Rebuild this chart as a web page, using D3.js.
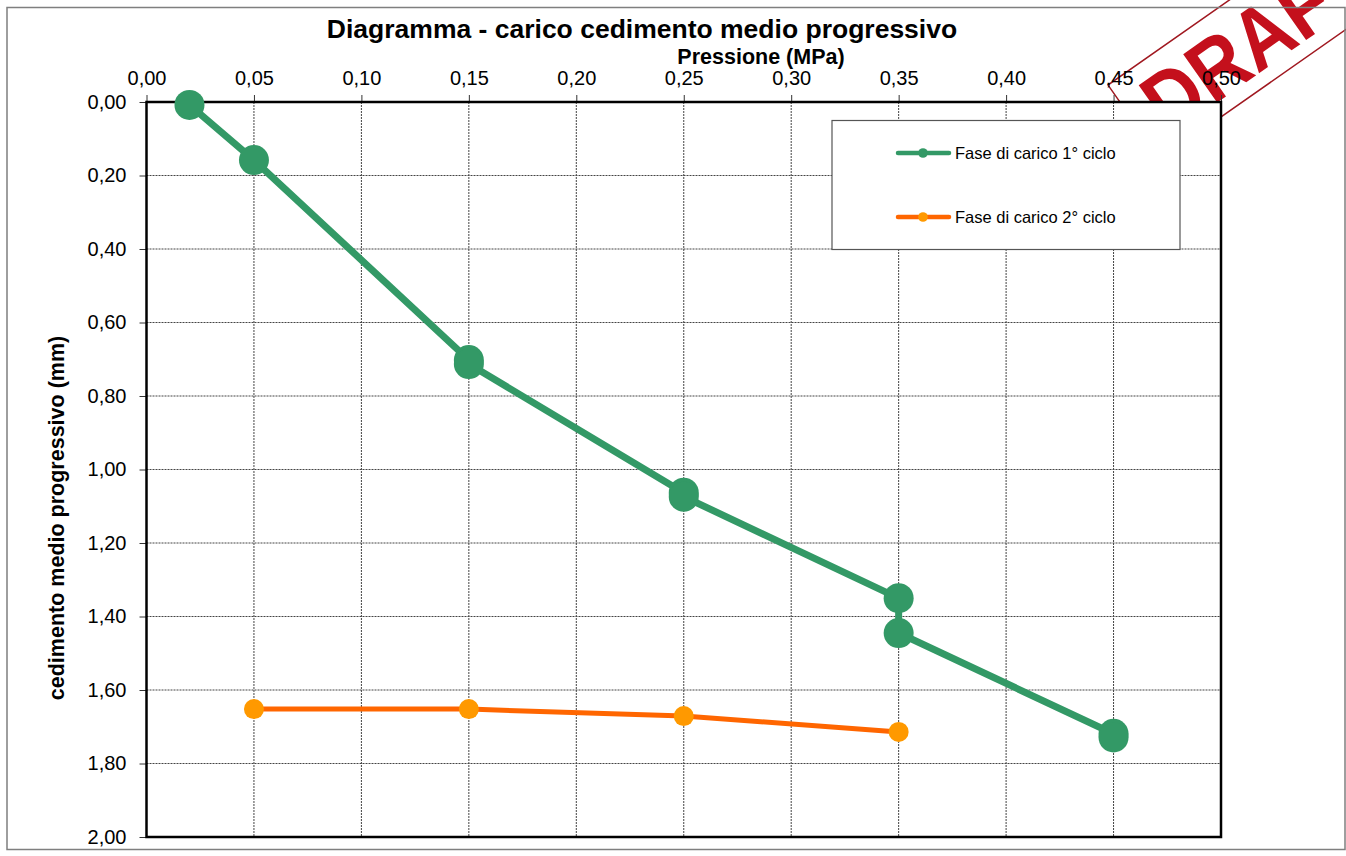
<!DOCTYPE html>
<html><head><meta charset="utf-8">
<script src="https://cdn.jsdelivr.net/npm/d3@7"></script>
<style>html,body{margin:0;padding:0;background:#fff;}svg{display:block;font-family:Arial,"Liberation Sans",sans-serif;}</style>
</head><body>
<svg id="c" width="1346" height="856"></svg>
<script>
const xTicks = [0,0.05,0.10,0.15,0.20,0.25,0.30,0.35,0.40,0.45,0.50];
const yTicks = [0,0.2,0.4,0.6,0.8,1.0,1.2,1.4,1.6,1.8,2.0];
const s1x = [0.02,0.05,0.15,0.15,0.25,0.25,0.35,0.35,0.45,0.45];
const s1y = [0.008,0.158,0.702,0.713,1.063,1.074,1.350,1.445,1.719,1.729];
const s2x = [0.05,0.15,0.25,0.35];
const s2y = [1.652,1.652,1.671,1.714];
const seriesNames = ["Fase di carico 1° ciclo","Fase di carico 2° ciclo"];

const svg = d3.select("#c");
const L=146.5,R=1221,T=102,B=837;
const x = d3.scaleLinear().domain([0,0.5]).range([L,R]);
const y = d3.scaleLinear().domain([0,2]).range([T,B]);
const fmt = d=>d3.format(".2f")(d).replace(".",",");

// DRAFT stamp (behind plot area)
const st = svg.append("g").attr("transform","translate(1108,85) rotate(-35)");
st.append("rect").attr("x",0).attr("y",0).attr("width",300).attr("height",91).attr("fill","none").attr("stroke","#a01820").attr("stroke-width",1.5);
st.append("text").attr("x",20).attr("y",77).attr("font-size",86).attr("font-weight","bold").attr("fill","#c4101c")
  .attr("textLength",255).attr("lengthAdjust","spacingAndGlyphs").text("DRAFT");

// outer frame
svg.append("rect").attr("x",7).attr("y",7.5).attr("width",1338).attr("height",842).attr("fill","none").attr("stroke","#7f7f7f").attr("stroke-width",1.5);

// plot area
svg.append("rect").attr("x",L).attr("y",T).attr("width",R-L).attr("height",B-T).attr("fill","#fff");

// gridlines
const g = svg.append("g");
g.selectAll("line.v").data(xTicks.slice(1,-1)).join("line").attr("x1",d=>x(d)).attr("x2",d=>x(d)).attr("y1",T).attr("y2",B)
 .attr("stroke","#444").attr("stroke-width",1).attr("stroke-dasharray","2,1");
g.selectAll("line.h").data(yTicks.slice(1,-1)).join("line").attr("x1",L).attr("x2",R).attr("y1",d=>y(d)).attr("y2",d=>y(d))
 .attr("stroke","#444").attr("stroke-width",1).attr("stroke-dasharray","2,1");

// axes
const axTop = svg.append("g").attr("transform",`translate(0,${T})`).call(d3.axisTop(x).tickValues(xTicks).tickFormat(fmt).tickSize(7).tickPadding(10));
const axLeft = svg.append("g").attr("transform",`translate(${L},0)`).call(d3.axisLeft(y).tickValues(yTicks).tickFormat(fmt).tickSize(7).tickPadding(13));
[axTop,axLeft].forEach(a=>{a.select(".domain").remove();a.selectAll("line").attr("stroke","#333");a.selectAll("text").attr("font-size",20).attr("fill","#000").attr("font-family",'Arial,"Liberation Sans",sans-serif');});

// plot border
svg.append("rect").attr("x",L).attr("y",T).attr("width",R-L).attr("height",B-T).attr("fill","none").attr("stroke","#000").attr("stroke-width",2.5);

// legend
const lg = svg.append("g");
lg.append("rect").attr("x",832).attr("y",120.5).attr("width",348).attr("height",129).attr("fill","#fff").attr("stroke","#555").attr("stroke-width",1.2);
const lc = [["#339966","#339966"],["#ff6600","#ff9900"]];
[153,217].forEach((ly,i)=>{
  lg.append("line").attr("x1",898).attr("x2",949).attr("y1",ly).attr("y2",ly).attr("stroke",lc[i][0]).attr("stroke-width",4.5).attr("stroke-linecap","round");
  lg.append("circle").attr("cx",923).attr("cy",ly).attr("r",4.8).attr("fill",lc[i][1]);
  lg.append("text").attr("x",955).attr("y",ly+6).attr("font-size",16.5).attr("fill","#000").text(seriesNames[i]);
});

// series
const line = d3.line().x(d=>x(d[0])).y(d=>y(d[1]));
const d1 = s1x.map((v,i)=>[v,s1y[i]]);
const d2 = s2x.map((v,i)=>[v,s2y[i]]);
svg.append("path").datum(d1).attr("d",line).attr("fill","none").attr("stroke","#339966").attr("stroke-width",7);
svg.selectAll("circle.s1").data(d1).join("circle").attr("class","s1").attr("cx",d=>x(d[0])).attr("cy",d=>y(d[1])).attr("r",15).attr("fill","#339966");
svg.append("path").datum(d2).attr("d",line).attr("fill","none").attr("stroke","#ff6600").attr("stroke-width",5);
svg.selectAll("circle.s2").data(d2).join("circle").attr("class","s2").attr("cx",d=>x(d[0])).attr("cy",d=>y(d[1])).attr("r",10).attr("fill","#ff9900");

// titles
svg.append("text").attr("x",642).attr("y",38).attr("text-anchor","middle").attr("font-size",26.5).attr("font-weight","bold").text("Diagramma - carico cedimento medio progressivo");
svg.append("text").attr("x",761).attr("y",64).attr("text-anchor","middle").attr("font-size",21.5).attr("font-weight","bold").text("Pressione (MPa)");
svg.append("text").attr("transform","translate(64,518) rotate(-90)").attr("text-anchor","middle").attr("font-size",21.5).attr("font-weight","bold").text("cedimento medio progressivo (mm)");
</script>
</body></html>
